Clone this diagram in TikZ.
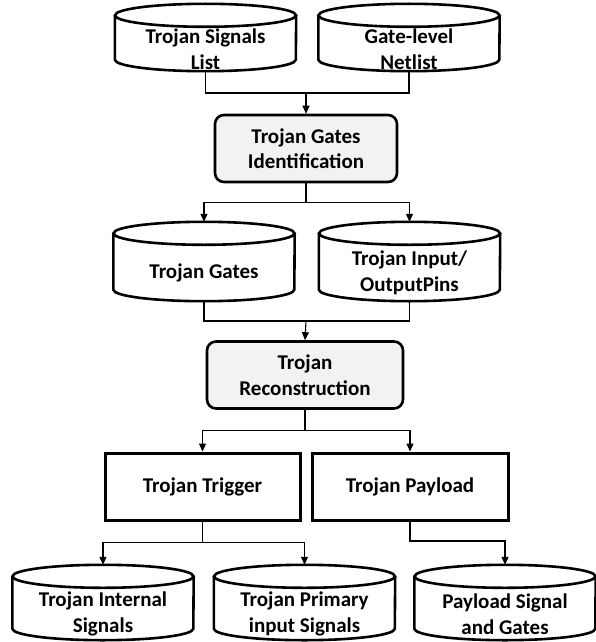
\documentclass[tikz,border=0pt]{standalone}
\usepackage{fontspec}
\setmainfont{Carlito}
\usetikzlibrary{arrows.meta,calc}
\definecolor{boxgray}{HTML}{F2F2F2}

% Draws a data-store cylinder around the body node #1
% (the node spans from the lower rim of the top ellipse to the bottom)
% and names its topmost point #1top.
\newcommand\cylshape[1]{%
  \draw[cylline] ($(#1.north)+(0,11.5pt)$) ellipse[x radius=90.5pt, y radius=11.5pt];
  \draw[cylline] ($(#1.north west)+(0,11.5pt)$) -- ($(#1.south west)+(0,11.5pt)$)
    arc[start angle=180, end angle=360, x radius=90.5pt, y radius=11.5pt]
    -- ($(#1.north east)+(0,11.5pt)$);
  \coordinate (#1top) at ($(#1.north)+(0,23pt)$);
}

\begin{document}
\begin{tikzpicture}[x=1pt, y=-1pt,
  lbl/.style={font=\bfseries\fontsize{21}{25.5}\selectfont, align=center, inner sep=0pt},
  cylbody/.style={lbl, minimum width=181pt, minimum height=#1},
  cylline/.style={line width=2.6pt},
  procbox/.style={lbl, draw, line width=2.6pt, rounded corners=9pt, fill=boxgray,
                  minimum width=#1, minimum height=67pt},
  plainbox/.style={lbl, draw, line width=3pt, minimum width=195pt, minimum height=67pt},
  link/.style={line width=1.1pt},
  arr/.style={link, -{Triangle[length=8pt, width=7pt]}}]

\useasboundingbox (0,0) rectangle (596,642);

% inputs
\node[cylbody=44pt] (tsl) at (205.5,49) {Trojan Signals\\List};
\node[cylbody=44pt] (gln) at (409,49) {Gate-level\\Netlist};

% gate identification
\node[procbox=182pt] (tgi) at (306,148.5) {Trojan Gates\\Identification};

\node[cylbody=56pt] (tg)  at (204,273)   {Trojan Gates};
\node[cylbody=56pt] (tio) at (409.5,273) {Trojan Input/\\OutputPins};

% reconstruction
\node[procbox=196pt] (trc) at (305,375) {Trojan\\Reconstruction};

\node[plainbox] (trig) at (202.5,486.5) {Trojan Trigger};
\node[plainbox, minimum width=196pt] (pay) at (410,486.5) {Trojan Payload};

% outputs
\node[cylbody=52pt] (tis)  at (103,614)   {Trojan Internal\\Signals};
\node[cylbody=52pt] (tpis) at (304.5,614) {Trojan Primary\\input Signals};
\node[cylbody=52pt] (psg)  at (505,614)   {Payload Signal\\and Gates};

\cylshape{tsl}
\cylshape{gln}
\cylshape{tg}
\cylshape{tio}
\cylshape{tis}
\cylshape{tpis}
\cylshape{psg}

% connectors
\draw[link] (tsl.south) |- (306,93) coordinate (m1) -| (gln.south);
\draw[arr] (m1) -- (tgi.north);

\draw[link] (tgi.south) -- ++(0,19) coordinate (m2);
\draw[arr] (m2) -| (tgtop);
\draw[arr] (m2) -| (tiotop);

\draw[link] (tg.south) |- (306,321) coordinate (m3) -| (tio.south);
\draw[arr] (m3) -- (trc.north);

\draw[link] (trc.south) -- ++(0,21) coordinate (m4);
\draw[arr] (m4) -| (trig.north);
\draw[arr] (m4) -| (pay.north);

\draw[link] (trig.south) -- ++(0,21) coordinate (m5);
\draw[arr] (m5) -| (tistop);
\draw[arr] (m5) -| (tpistop);

\draw[arr] (pay.south) |- (480,541) -| (psgtop);
\end{tikzpicture}
\end{document}
